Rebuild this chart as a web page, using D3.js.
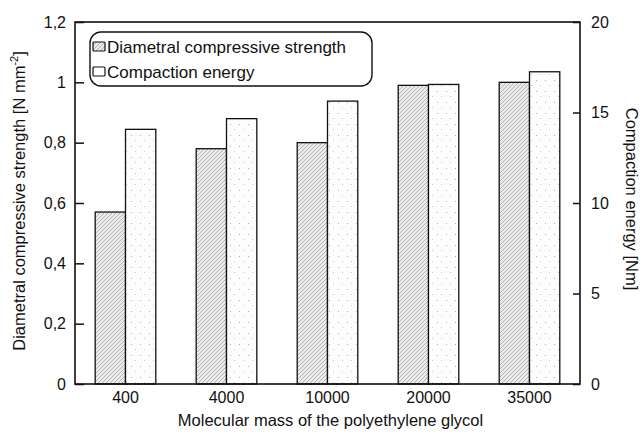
<!DOCTYPE html>
<html>
<head>
<meta charset="utf-8">
<script src="https://cdn.jsdelivr.net/npm/d3@7"></script>
<style>
  body { margin: 0; background: #fff; }
  text { font-family: "Liberation Sans", Arial, sans-serif; fill: #111; }
</style>
</head>
<body>
<div id="chart"></div>
<script>
// data
const masses = ["400", "4000", "10000", "20000", "35000"];
const strength = [0.57, 0.78, 0.80, 0.99, 1.00];      // N mm-2, left axis
const energy = [14.07, 14.66, 15.63, 16.55, 17.25];   // Nm, right axis
const leftTicks = [0, 0.2, 0.4, 0.6, 0.8, 1, 1.2];
const rightTicks = [0, 5, 10, 15, 20];

const width = 641;
const height = 432;
const margin = { top: 22, right: 61, bottom: 48, left: 75 };
const chartWidth = width - margin.left - margin.right;
const chartHeight = height - margin.top - margin.bottom;

const svg = d3.select("#chart")
  .append("svg")
  .attr("width", width)
  .attr("height", height);

const defs = svg.append("defs");

// hatched + stippled fill for the strength bars
const hatch = defs.append("pattern")
  .attr("id", "hatch")
  .attr("patternUnits", "userSpaceOnUse")
  .attr("width", 4)
  .attr("height", 4);
hatch.append("rect").attr("width", 4).attr("height", 4).attr("fill", "#ececec");
hatch.append("path")
  .attr("d", "M-1,1 l2,-2 M0,4 l4,-4 M3,5 l2,-2")
  .attr("stroke", "#8a8a8a")
  .attr("stroke-width", 0.6);

// sparse dots for the energy bars
const dots = defs.append("pattern")
  .attr("id", "dots")
  .attr("patternUnits", "userSpaceOnUse")
  .attr("width", 9)
  .attr("height", 11);
dots.append("rect").attr("width", 9).attr("height", 11).attr("fill", "#fdfdfd");
dots.append("rect").attr("x", 2).attr("y", 3).attr("width", 1).attr("height", 1).attr("fill", "#b0b0b0");
dots.append("rect").attr("x", 6).attr("y", 8).attr("width", 1).attr("height", 1).attr("fill", "#cacaca");

const chart = svg.append("g")
  .attr("transform", `translate(${margin.left},${margin.top})`);

const xScale = d3.scaleBand()
  .domain(masses)
  .range([0, chartWidth])
  .paddingInner(0.4)
  .paddingOuter(0.2);

const xInner = d3.scaleBand()
  .domain(["strength", "energy"])
  .range([0, xScale.bandwidth()]);

const yLeft = d3.scaleLinear().domain([0, 1.2]).range([chartHeight, 0]);
const yRight = d3.scaleLinear().domain([0, 20]).range([chartHeight, 0]);

// bars
chart.selectAll(".bar-s")
  .data(strength)
  .enter()
  .append("rect")
  .attr("class", "bar-s")
  .attr("x", (d, i) => xScale(masses[i]) + xInner("strength"))
  .attr("y", d => yLeft(d))
  .attr("width", xInner.bandwidth())
  .attr("height", d => chartHeight - yLeft(d))
  .attr("fill", "url(#hatch)")
  .attr("stroke", "#111")
  .attr("stroke-width", 1.3);

chart.selectAll(".bar-e")
  .data(energy)
  .enter()
  .append("rect")
  .attr("class", "bar-e")
  .attr("x", (d, i) => xScale(masses[i]) + xInner("energy"))
  .attr("y", d => yRight(d))
  .attr("width", xInner.bandwidth())
  .attr("height", d => chartHeight - yRight(d))
  .attr("fill", "url(#dots)")
  .attr("stroke", "#111")
  .attr("stroke-width", 1.3);

// frame
chart.append("rect")
  .attr("width", chartWidth)
  .attr("height", chartHeight)
  .attr("fill", "none")
  .attr("stroke", "#111")
  .attr("stroke-width", 1.6);

const fmt = d => String(d).replace(".", ",");

// left axis, ticks pointing inward
const leftAxis = chart.append("g")
  .attr("class", "y-axis")
  .call(d3.axisRight(yLeft).tickValues(leftTicks).tickFormat(fmt).tickSize(9));
leftAxis.select(".domain").remove();
leftAxis.selectAll("line").attr("stroke", "#111").attr("stroke-width", 1.5);
leftAxis.selectAll("text")
  .attr("x", -9)
  .attr("text-anchor", "end")
  .attr("font-size", "16px");

// right axis, ticks pointing inward
const rightAxis = chart.append("g")
  .attr("class", "y-axis-right")
  .attr("transform", `translate(${chartWidth},0)`)
  .call(d3.axisLeft(yRight).tickValues(rightTicks).tickSize(7));
rightAxis.select(".domain").remove();
rightAxis.selectAll("line").attr("stroke", "#111").attr("stroke-width", 1.5);
rightAxis.selectAll("text")
  .attr("x", 11)
  .attr("text-anchor", "start")
  .attr("font-size", "16px");

// x axis labels
const xAxis = chart.append("g")
  .attr("class", "x-axis")
  .attr("transform", `translate(0,${chartHeight})`)
  .call(d3.axisBottom(xScale).tickSize(0).tickPadding(8));
xAxis.select(".domain").remove();
xAxis.selectAll("text").attr("font-size", "16px");

// axis titles
svg.append("text")
  .attr("x", margin.left + chartWidth / 2 + 3)
  .attr("y", 426)
  .attr("text-anchor", "middle")
  .attr("font-size", "16.5px")
  .text("Molecular mass of the polyethylene glycol");

const leftTitle = svg.append("text")
  .attr("transform", `translate(25,${margin.top + chartHeight / 2 - 2}) rotate(-90)`)
  .attr("text-anchor", "middle")
  .attr("font-size", "16.5px");
leftTitle.append("tspan").text("Diametral compressive strength [N mm");
leftTitle.append("tspan").attr("dy", -7).attr("font-size", "11px").text("-2");
leftTitle.append("tspan").attr("dy", 7).text("]");

svg.append("text")
  .attr("transform", `translate(626,${margin.top + chartHeight / 2 - 4}) rotate(90)`)
  .attr("text-anchor", "middle")
  .attr("font-size", "16.5px")
  .text("Compaction energy [Nm]");

// legend
const legend = svg.append("g").attr("transform", "translate(90,32)");
legend.append("rect")
  .attr("width", 282)
  .attr("height", 54)
  .attr("rx", 11)
  .attr("fill", "#fff")
  .attr("stroke", "#111")
  .attr("stroke-width", 1.4);

const legendItems = [
  { label: "Diametral compressive strength", fill: "url(#hatch)" },
  { label: "Compaction energy", fill: "#fff" }
];
legendItems.forEach((item, i) => {
  const row = legend.append("g").attr("transform", `translate(3,${10 + i * 25})`);
  row.append("rect")
    .attr("width", 12)
    .attr("height", 9)
    .attr("rx", 1)
    .attr("fill", item.fill)
    .attr("stroke", "#111")
    .attr("stroke-width", 1.2);
  row.append("text")
    .attr("x", 14)
    .attr("y", 11)
    .attr("font-size", "17px")
    .text(item.label);
});
</script>
</body>
</html>
